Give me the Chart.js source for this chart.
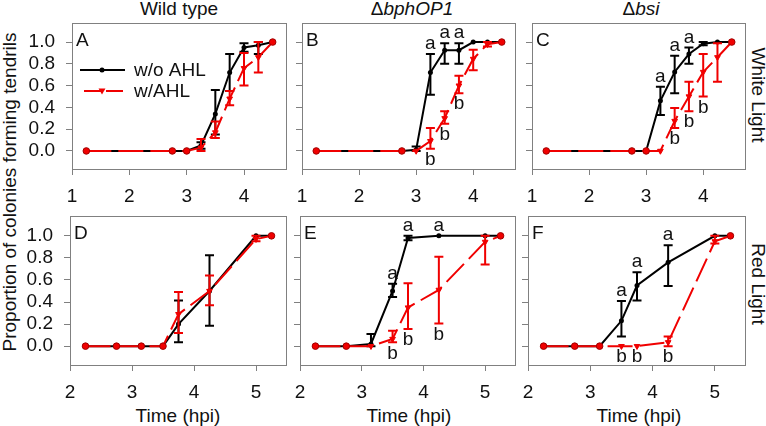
<!DOCTYPE html>
<html>
<head>
<meta charset="utf-8">
<script src="https://cdn.jsdelivr.net/npm/chart.js@4.4.0/dist/chart.umd.min.js"></script>
<style>
  body { margin: 0; background: #fff; width: 766px; height: 426px; position: relative; overflow: hidden;
         font-family: "Liberation Sans", Arial, sans-serif; }
  canvas { position: absolute; }
  .lbl { position: absolute; font-size: 19px; line-height: 1; color: #111; white-space: nowrap;
         transform: translate(-50%, -50%); }
  .rotL { transform: translate(-50%, -50%) rotate(-90deg); }
  .rotR { transform: translate(-50%, -50%) rotate(90deg); }
</style>
</head>
<body>
<div class="lbl" style="left:179px;top:8px">Wild type</div>
<div class="lbl" style="left:412px;top:8px">Δ<i>bphOP1</i></div>
<div class="lbl" style="left:641px;top:8px">Δ<i>bsi</i></div>
<div class="lbl rotL" style="left:9px;top:192px">Proportion of colonies forming tendrils</div>
<div class="lbl rotR" style="left:758px;top:95px">White Light</div>
<div class="lbl rotR" style="left:758px;top:284px">Red Light</div>
<div class="lbl" style="left:178px;top:415px">Time (hpi)</div>
<div class="lbl" style="left:409px;top:415px">Time (hpi)</div>
<div class="lbl" style="left:639px;top:415px">Time (hpi)</div>

<script>
// time points (hpi)
const topTimes = [1.25, 2.75, 3.0, 3.25, 3.5, 3.75, 4.0, 4.25, 4.5];
const botTimes = [2.25, 2.75, 3.15, 3.5, 3.75, 4.25, 5.0, 5.25];
const topXTicks = [1, 2, 3, 4];
const botXTicks = [2, 3, 4, 5];
const yTicks = [0, 0.2, 0.4, 0.6, 0.8, 1.0];

// A - wild type, white light
const aNoAhl   = [0, 0, 0, 0.05, 0.34, 0.72, 0.95, 0.97, 1.0];
const aNoAhlLo = [null, null, null, 0.02, 0.15, 0.55, 0.91, 0.89, null];
const aNoAhlHi = [null, null, null, 0.08, 0.56, 0.89, 0.99, 1.0, null];
const aAhl     = [0, 0, 0, 0.03, 0.17, 0.48, 0.76, 0.86, 1.0];
const aAhlLo   = [null, null, null, 0, 0.12, 0.42, 0.6, 0.72, null];
const aAhlHi   = [null, null, null, 0.11, 0.27, 0.55, 0.9, 1.0, null];

// B - bphOP1, white light
const bNoAhl   = [0, 0, 0.01, 0.72, 0.925, 0.925, 1.0, 1.0, 1.0];
const bNoAhlLo = [null, null, 0, 0.515, 0.8, 0.8, null, null, null];
const bNoAhlHi = [null, null, 0.04, 0.89, 0.99, 0.99, null, null, null];
const bAhl     = [0, 0, 0, 0.09, 0.3, 0.6, 0.845, 0.98, 1.0];
const bAhlLo   = [null, null, null, 0.02, 0.25, 0.53, 0.74, 0.96, null];
const bAhlHi   = [null, null, null, 0.21, 0.365, 0.69, 0.93, 1.0, null];

// C - bsi, white light
const cNoAhl   = [0, 0, 0, 0.46, 0.725, 0.89, 0.985, 1.0, 1.0];
const cNoAhlLo = [null, null, null, 0.33, 0.53, 0.8, 0.97, null, null];
const cNoAhlHi = [null, null, null, 0.59, 0.875, 0.95, 1.0, null, null];
const cAhl     = [0, 0, 0, 0, 0.275, 0.5, 0.725, 0.86, 1.0];
const cAhlLo   = [null, null, null, null, 0.21, 0.365, 0.5, 0.635, null];
const cAhlHi   = [null, null, null, null, 0.395, 0.635, 0.89, 0.99, null];

// D - wild type, red light
const dNoAhl   = [0, 0, 0, 0, 0.2, 0.5, 1.0, 1.0];
const dNoAhlLo = [null, null, null, null, 0.035, 0.185, null, null];
const dNoAhlHi = [null, null, null, null, 0.415, 0.825, null, null];
const dAhl     = [0, 0, 0, 0, 0.29, 0.5, 0.97, 1.0];
const dAhlLo   = [null, null, null, null, 0.12, 0.37, 0.95, null];
const dAhlHi   = [null, null, null, null, 0.49, 0.64, 1.0, null];

// E - bphOP1, red light
const eNoAhl   = [0, 0, 0.02, 0.5, 0.98, 1.0, 1.0, 1.0];
const eNoAhlLo = [null, null, 0, 0.445, 0.96, null, null, null];
const eNoAhlHi = [null, null, 0.11, 0.565, 1.0, null, null, null];
const eAhl     = [0, 0, 0, 0.065, 0.35, 0.51, 0.945, 1.0];
const eAhlLo   = [null, null, null, 0.035, 0.155, 0.205, 0.74, null];
const eAhlHi   = [null, null, null, 0.14, 0.57, 0.81, 1.0, null];

// F - bsi, red light
const fNoAhl   = [0, 0, 0, 0.23, 0.55, 0.76, 1.0, 1.0];
const fNoAhlLo = [null, null, null, 0.087, 0.415, 0.545, null, null];
const fNoAhlHi = [null, null, null, 0.41, 0.67, 0.915, null, null];
const fAhl     = [0, 0, 0, 0, 0, 0.035, 0.95, 1.0];
const fAhlLo   = [null, null, null, null, null, 0, 0.93, null];
const fAhlHi   = [null, null, null, null, null, 0.087, 1.0, null];

// significance letters
const sigNone9 = ['', '', '', '', '', '', '', '', ''];
const sigNone8 = ['', '', '', '', '', '', '', ''];
const bSigNo  = ['', '', '', 'a', 'a', 'a', '', '', ''];
const bSigAhl = ['', '', '', 'b', 'b', 'b', '', '', ''];
const cSigNo  = ['', '', '', 'a', 'a', 'a', '', '', ''];
const cSigAhl = ['', '', '', '', 'b', 'b', 'b', '', ''];
const eSigNo  = ['', '', '', 'a', 'a', 'a', '', ''];
const eSigAhl = ['', '', '', 'b', 'b', 'b', '', ''];
const fSigNo  = ['', '', '', 'a', 'a', 'a', '', ''];
const fSigAhl = ['', '', '', 'b', 'b', 'b', '', ''];

const BLACK = '#000000';
const RED = '#f00000';
const BOX = '#808080';
const FONT = '"Liberation Sans", Arial, sans-serif';

// box = [left, top, right, bottom] of the plot frame, dots = red points drawn as circles
const panels = [
  {name: 'A', box: [72, 20, 287, 170], xr: [1, 4.75], xt: topXTicks, yr: [-0.175, 1.175], t: topTimes,
   no: [aNoAhl, aNoAhlLo, aNoAhlHi, sigNone9], ahl: [aAhl, aAhlLo, aAhlHi, sigNone9], dots: [0, 1, 2, 8], yLab: true, legend: true},
  {name: 'B', box: [302, 20, 516, 170], xr: [1, 4.75], xt: topXTicks, yr: [-0.175, 1.175], t: topTimes,
   no: [bNoAhl, bNoAhlLo, bNoAhlHi, bSigNo], ahl: [bAhl, bAhlLo, bAhlHi, bSigAhl], dots: [0, 1, 8]},
  {name: 'C', box: [532, 20, 746, 170], xr: [1, 4.75], xt: topXTicks, yr: [-0.175, 1.175], t: topTimes,
   no: [cNoAhl, cNoAhlLo, cNoAhlHi, cSigNo], ahl: [cAhl, cAhlLo, cAhlHi, cSigAhl], dots: [0, 1, 2, 8]},
  {name: 'D', box: [70, 213, 287, 366], xr: [2, 5.5], xt: botXTicks, yr: [-0.18, 1.18], t: botTimes,
   no: [dNoAhl, dNoAhlLo, dNoAhlHi, sigNone8], ahl: [dAhl, dAhlLo, dAhlHi, sigNone8], dots: [0, 1, 2, 3, 7], yLab: true},
  {name: 'E', box: [300, 213, 516, 366], xr: [2, 5.5], xt: botXTicks, yr: [-0.18, 1.18], t: botTimes,
   no: [eNoAhl, eNoAhlLo, eNoAhlHi, eSigNo], ahl: [eAhl, eAhlLo, eAhlHi, eSigAhl], dots: [0, 1, 7]},
  {name: 'F', box: [528, 213, 746, 366], xr: [2, 5.5], xt: botXTicks, yr: [-0.18, 1.18], t: botTimes,
   no: [fNoAhl, fNoAhlLo, fNoAhlHi, fSigNo], ahl: [fAhl, fAhlLo, fAhlHi, fSigAhl], dots: [0, 1, 2, 7]}
];

const Y_AXIS_W = 60, X_AXIS_H = 40, PAD_TOP = 2, PAD_RIGHT = 8;

//error bars drawn right after their own dataset
const errorBars = {
  id: 'errorBars',
  afterDatasetDraw(chart, args) {
    const ds = chart.data.datasets[args.index];
    if (!ds.errLo) return;
    const xs = chart.scales.x, ys = chart.scales.y, ctx = chart.ctx;
    ctx.save();
    ctx.strokeStyle = ds.borderColor;
    ctx.lineWidth = 2;
    ctx.setLineDash([]);
    ds.data.forEach((p, i) => {
      if (ds.errLo[i] == null) return;
      const px = xs.getPixelForValue(p.x);
      const y1 = ys.getPixelForValue(ds.errLo[i]);
      const y2 = ys.getPixelForValue(ds.errHi[i]);
      ctx.beginPath();
      ctx.moveTo(px, y1); ctx.lineTo(px, y2);
      ctx.moveTo(px - 4.5, y1); ctx.lineTo(px + 4.5, y1);
      ctx.moveTo(px - 4.5, y2); ctx.lineTo(px + 4.5, y2);
      ctx.stroke();
    });
    ctx.restore();
  }
};

//frame, panel letter, a/b letters and the legend
const decorations = {
  id: 'decorations',
  afterDraw(chart) {
    const ctx = chart.ctx, a = chart.chartArea, p = chart.options.panel;
    const xs = chart.scales.x, ys = chart.scales.y;
    ctx.save();
    ctx.strokeStyle = BOX;
    ctx.lineWidth = 1;
    ctx.strokeRect(a.left + 0.5, a.top + 0.5, a.right - a.left - 1, a.bottom - a.top - 1);

    ctx.fillStyle = '#111';
    ctx.font = '19px ' + FONT;
    ctx.textAlign = 'left';
    ctx.textBaseline = 'alphabetic';
    ctx.fillText(p.name, a.left + 4, a.top + 23);

    ctx.textAlign = 'center';
    ctx.textBaseline = 'middle';
    chart.data.datasets.forEach(ds => {
      ds.data.forEach((pt, i) => {
        const s = ds.sig[i];
        if (!s) return;
        const px = xs.getPixelForValue(pt.x);
        if (s === 'a') {
          const top = ds.errHi[i] != null ? ds.errHi[i] : pt.y;
          ctx.fillText(s, px, ys.getPixelForValue(top) - 10);
        } else {
          const bot = ds.errLo[i] != null ? ds.errLo[i] : pt.y;
          ctx.fillText(s, px, ys.getPixelForValue(bot) + 11);
        }
      });
    });

    if (p.legend) {
      const lx = a.left + 8, rx = a.left + 53, mx = a.left + 30;
      const y1 = a.top + 47, y2 = a.top + 68;
      ctx.lineWidth = 2;
      ctx.strokeStyle = BLACK;
      ctx.beginPath(); ctx.moveTo(lx, y1); ctx.lineTo(rx, y1); ctx.stroke();
      ctx.fillStyle = BLACK;
      ctx.beginPath(); ctx.arc(mx, y1, 2.5, 0, Math.PI * 2); ctx.fill();
      ctx.strokeStyle = RED;
      ctx.setLineDash([17, 5]);
      ctx.beginPath(); ctx.moveTo(lx + 4, y2); ctx.lineTo(rx, y2); ctx.stroke();
      ctx.setLineDash([]);
      ctx.fillStyle = RED;
      ctx.beginPath(); ctx.moveTo(mx - 3.5, y2 - 2.5); ctx.lineTo(mx + 3.5, y2 - 2.5); ctx.lineTo(mx, y2 + 3.5); ctx.closePath(); ctx.fill();
      ctx.fillStyle = '#111';
      ctx.textAlign = 'left';
      ctx.textBaseline = 'alphabetic';
      ctx.fillText('w/o AHL', a.left + 62, y1 + 6);
      ctx.fillText('w/AHL', a.left + 62, y2 + 6);
    }
    ctx.restore();
  }
};

function toPoints(times, vals) {
  return times.map((t, i) => ({x: t, y: vals[i]}));
}

panels.forEach(p => {
  const [l, t, r, b] = p.box;
  const cv = document.createElement('canvas');
  const w = r - l + Y_AXIS_W + PAD_RIGHT;
  const h = b - t + PAD_TOP + X_AXIS_H;
  cv.width = w; cv.height = h;
  cv.style.left = (l - Y_AXIS_W) + 'px';
  cv.style.top = (t - PAD_TOP) + 'px';
  cv.style.width = w + 'px'; cv.style.height = h + 'px';
  document.body.appendChild(cv);

  const redStyle = p.t.map((_, i) => p.dots.includes(i) ? 'circle' : 'triangle');

  new Chart(cv.getContext('2d'), {
    type: 'line',
    data: {
      datasets: [{
        label: 'w/o AHL',
        data: toPoints(p.t, p.no[0]),
        errLo: p.no[1], errHi: p.no[2], sig: p.no[3],
        borderColor: BLACK, backgroundColor: BLACK,
        borderWidth: 2, tension: 0,
        pointRadius: 2.5, pointBorderWidth: 0, pointStyle: 'circle',
        order: 2
      }, {
        label: 'w/AHL',
        data: toPoints(p.t, p.ahl[0]),
        errLo: p.ahl[1], errHi: p.ahl[2], sig: p.ahl[3],
        borderColor: RED, backgroundColor: RED,
        borderWidth: 2, borderDash: [25, 7], tension: 0,
        pointStyle: redStyle, pointRadius: 3.3, pointRotation: 180,
        pointBorderColor: p.t.map((_, i) => p.dots.includes(i) ? '#a00000' : RED),
        pointBorderWidth: 1,
        order: 1
      }]
    },
    options: {
      panel: p,
      responsive: false,
      animation: false,
      devicePixelRatio: 1,
      layout: {padding: {left: 0, top: PAD_TOP, right: PAD_RIGHT, bottom: 0}},
      plugins: {legend: {display: false}, tooltip: {enabled: false}},
      scales: {
        x: {
          type: 'linear', min: p.xr[0], max: p.xr[1],
          afterBuildTicks: s => { s.ticks = p.xt.map(v => ({value: v})); },
          afterFit: s => { s.height = X_AXIS_H; s.paddingLeft = 0; s.paddingRight = 0; },
          border: {display: false},
          grid: {display: true, drawOnChartArea: false, drawTicks: true, tickLength: 5, color: BOX},
          ticks: {color: '#111', font: {family: FONT, size: 19}, padding: 10, maxRotation: 0, autoSkip: false}
        },
        y: {
          type: 'linear', min: p.yr[0], max: p.yr[1],
          afterBuildTicks: s => { s.ticks = yTicks.map(v => ({value: v})); },
          afterFit: s => { s.width = Y_AXIS_W; s.paddingTop = 0; s.paddingBottom = 0; },
          border: {display: false},
          grid: {display: true, drawOnChartArea: false, drawTicks: true, tickLength: 6, color: BOX},
          ticks: {display: !!p.yLab, color: '#111', font: {family: FONT, size: 19}, padding: 11,
                  callback: v => v.toFixed(1)}
        }
      }
    },
    plugins: [errorBars, decorations]
  });
});
</script>
</body>
</html>
